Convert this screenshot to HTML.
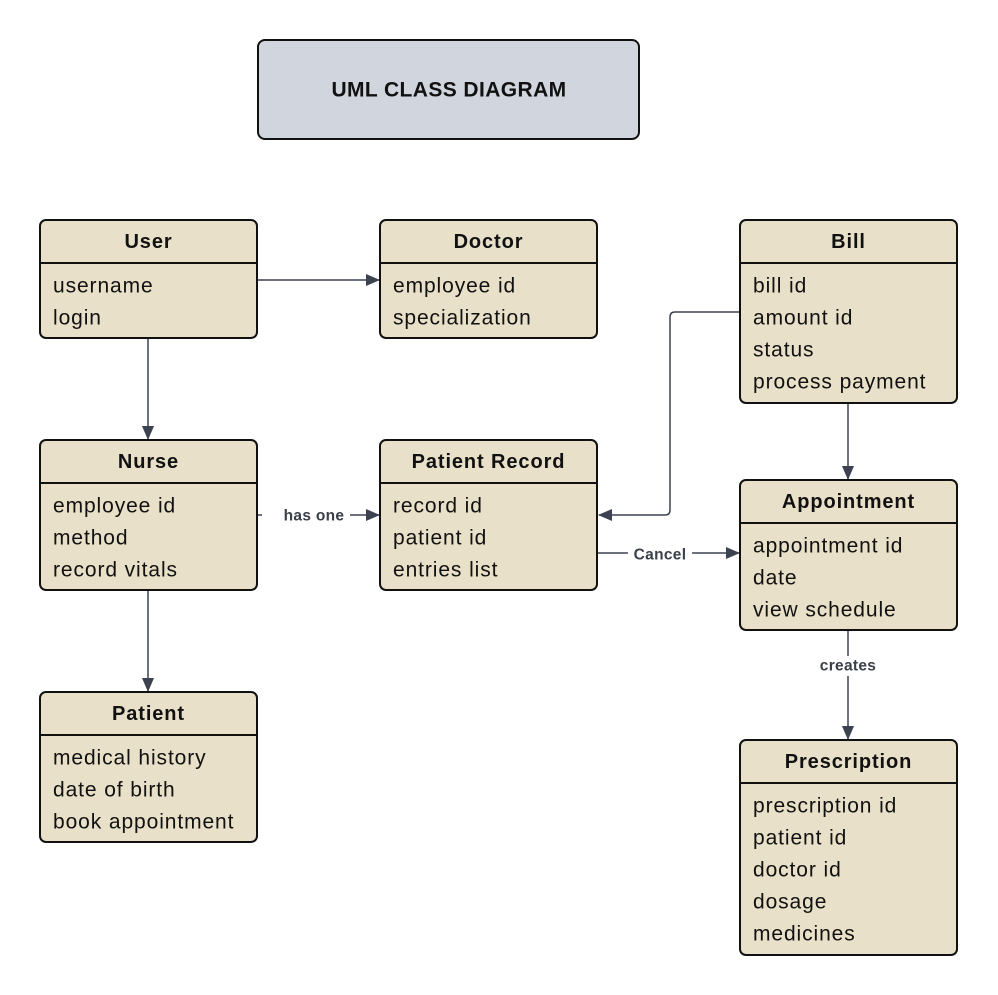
<!DOCTYPE html>
<html><head><meta charset="utf-8"><style>
html,body{margin:0;padding:0;background:#fff;}
svg{display:block;font-family:"Liberation Sans",sans-serif;}
.h{font-weight:bold;font-size:20px;fill:#111;letter-spacing:0.9px;}
.a{font-size:21px;fill:#111;letter-spacing:0.9px;}
.l{font-weight:bold;font-size:15.5px;fill:#3a3f48;letter-spacing:0.3px;}
.ln{stroke:#3c4250;stroke-width:1.5;fill:none;}
.bx{fill:#e8e0c8;stroke:#111;stroke-width:2;}
</style></head><body>
<svg width="998" height="995" viewBox="0 0 998 995">
<defs><marker id="ar" markerWidth="14" markerHeight="12" refX="13" refY="6" orient="auto" markerUnits="userSpaceOnUse"><path d="M0,0 L14,6 L0,12 z" fill="#3c4250"/></marker></defs>
<rect x="258" y="40" width="381" height="99" rx="7" fill="#d0d5de" stroke="#111" stroke-width="2"/>
<text x="449" y="90" text-anchor="middle" dominant-baseline="central" style="font-weight:bold;font-size:21px;fill:#111;letter-spacing:0.4px">UML CLASS DIAGRAM</text>

<path class="ln" d="M258,280 H379" marker-end="url(#ar)"/>
<path class="ln" d="M148,339 V439" marker-end="url(#ar)"/>
<path class="ln" d="M148,591 V691" marker-end="url(#ar)"/>
<path class="ln" d="M258,515 H379" marker-end="url(#ar)"/>
<rect x="262" y="505" width="88" height="20" fill="#fff"/>
<text class="l" x="314" y="516" text-anchor="middle" dominant-baseline="central">has one</text>
<path class="ln" d="M740,312 H675 Q670,312 670,317 V510 Q670,515 665,515 H599" stroke="#6a6f78" marker-end="url(#ar)"/>
<path class="ln" d="M598,553 H739" marker-end="url(#ar)"/>
<rect x="628" y="544" width="64" height="20" fill="#fff"/>
<text class="l" x="660" y="555" text-anchor="middle" dominant-baseline="central">Cancel</text>
<path class="ln" d="M848,404 V479" marker-end="url(#ar)"/>
<path class="ln" d="M848,631 V739" stroke-width="2" marker-end="url(#ar)"/>
<rect x="810" y="656" width="76" height="20" fill="#fff"/>
<text class="l" x="848" y="666" text-anchor="middle" dominant-baseline="central">creates</text>

<rect class="bx" x="40" y="220" width="217" height="118" rx="6"/>
<line x1="40" y1="263" x2="257" y2="263" stroke="#111" stroke-width="2"/>
<text class="h" x="148.5" y="242" text-anchor="middle" dominant-baseline="central">User</text>
<text class="a" x="53" y="286" dominant-baseline="central">username</text>
<text class="a" x="53" y="318" dominant-baseline="central">login</text>

<rect class="bx" x="380" y="220" width="217" height="118" rx="6"/>
<line x1="380" y1="263" x2="597" y2="263" stroke="#111" stroke-width="2"/>
<text class="h" x="488.5" y="242" text-anchor="middle" dominant-baseline="central">Doctor</text>
<text class="a" x="393" y="286" dominant-baseline="central">employee id</text>
<text class="a" x="393" y="318" dominant-baseline="central">specialization</text>

<rect class="bx" x="740" y="220" width="217" height="183" rx="6"/>
<line x1="740" y1="263" x2="957" y2="263" stroke="#111" stroke-width="2"/>
<text class="h" x="848.5" y="242" text-anchor="middle" dominant-baseline="central">Bill</text>
<text class="a" x="753" y="286" dominant-baseline="central">bill id</text>
<text class="a" x="753" y="318" dominant-baseline="central">amount id</text>
<text class="a" x="753" y="350" dominant-baseline="central">status</text>
<text class="a" x="753" y="382" dominant-baseline="central">process payment</text>

<rect class="bx" x="40" y="440" width="217" height="150" rx="6"/>
<line x1="40" y1="483" x2="257" y2="483" stroke="#111" stroke-width="2"/>
<text class="h" x="148.5" y="462" text-anchor="middle" dominant-baseline="central">Nurse</text>
<text class="a" x="53" y="506" dominant-baseline="central">employee id</text>
<text class="a" x="53" y="538" dominant-baseline="central">method</text>
<text class="a" x="53" y="570" dominant-baseline="central">record vitals</text>

<rect class="bx" x="380" y="440" width="217" height="150" rx="6"/>
<line x1="380" y1="483" x2="597" y2="483" stroke="#111" stroke-width="2"/>
<text class="h" x="488.5" y="462" text-anchor="middle" dominant-baseline="central">Patient Record</text>
<text class="a" x="393" y="506" dominant-baseline="central">record id</text>
<text class="a" x="393" y="538" dominant-baseline="central">patient id</text>
<text class="a" x="393" y="570" dominant-baseline="central">entries list</text>

<rect class="bx" x="740" y="480" width="217" height="150" rx="6"/>
<line x1="740" y1="523" x2="957" y2="523" stroke="#111" stroke-width="2"/>
<text class="h" x="848.5" y="502" text-anchor="middle" dominant-baseline="central">Appointment</text>
<text class="a" x="753" y="546" dominant-baseline="central">appointment id</text>
<text class="a" x="753" y="578" dominant-baseline="central">date</text>
<text class="a" x="753" y="610" dominant-baseline="central">view schedule</text>

<rect class="bx" x="40" y="692" width="217" height="150" rx="6"/>
<line x1="40" y1="735" x2="257" y2="735" stroke="#111" stroke-width="2"/>
<text class="h" x="148.5" y="714" text-anchor="middle" dominant-baseline="central">Patient</text>
<text class="a" x="53" y="758" dominant-baseline="central">medical history</text>
<text class="a" x="53" y="790" dominant-baseline="central">date of birth</text>
<text class="a" x="53" y="822" dominant-baseline="central">book appointment</text>

<rect class="bx" x="740" y="740" width="217" height="215" rx="6"/>
<line x1="740" y1="783" x2="957" y2="783" stroke="#111" stroke-width="2"/>
<text class="h" x="848.5" y="762" text-anchor="middle" dominant-baseline="central">Prescription</text>
<text class="a" x="753" y="806" dominant-baseline="central">prescription id</text>
<text class="a" x="753" y="838" dominant-baseline="central">patient id</text>
<text class="a" x="753" y="870" dominant-baseline="central">doctor id</text>
<text class="a" x="753" y="902" dominant-baseline="central">dosage</text>
<text class="a" x="753" y="934" dominant-baseline="central">medicines</text>
</svg>
</body></html>
